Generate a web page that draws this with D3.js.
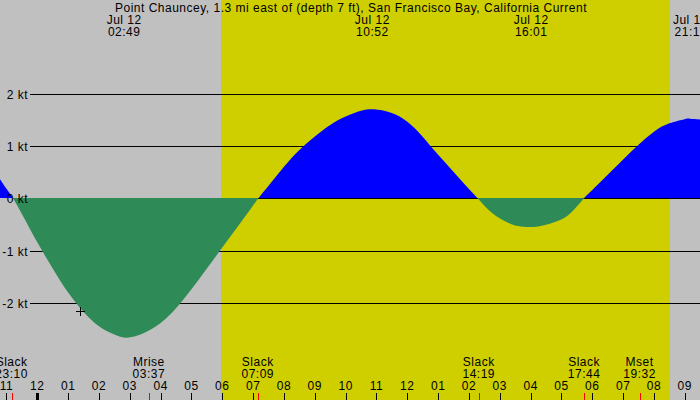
<!DOCTYPE html>
<html><head><meta charset="utf-8">
<script src="https://cdn.jsdelivr.net/npm/d3@7"></script>
<style>
body{margin:0;background:#c0c0c0;}
svg{display:block;}
text{font-family:"Liberation Sans",Arial,Helvetica,sans-serif;font-size:12px;letter-spacing:0.5px;fill:#000;}
</style>
</head><body><svg id="c" width="700" height="400"></svg>
<script>
// ---------- data (hours relative to midnight Jul 12) ----------
const title = "Point Chauncey, 1.3 mi east of (depth 7 ft), San Francisco Bay, California Current";
const currentHours = [-1.25, -1.0, -0.79, -0.5, 0.0, 0.5, 1.0, 1.5, 2.0, 2.5, 2.85,
  3.25, 3.75, 4.25, 4.75, 5.25, 5.75, 6.25, 6.75, 7.17,
  7.5, 8.0, 8.5, 9.0, 9.5, 10.0, 10.5, 10.85,
  11.25, 11.75, 12.25, 12.75, 13.25, 13.75, 14.28,
  14.75, 15.25, 15.6, 15.98, 16.4, 16.85, 17.3, 17.73,
  18.0, 18.5, 19.0, 19.5, 20.0, 20.5, 21.0, 21.17, 21.6];
const currentKnots = [0.40, 0.18, 0.0, -0.30, -0.84, -1.34, -1.80, -2.17, -2.44, -2.60, -2.66,
  -2.62, -2.48, -2.25, -1.92, -1.54, -1.14, -0.74, -0.34, 0.0,
  0.24, 0.60, 0.92, 1.18, 1.40, 1.56, 1.67, 1.70,
  1.67, 1.56, 1.33, 1.0, 0.67, 0.34, 0.0,
  -0.28, -0.46, -0.53, -0.55, -0.52, -0.44, -0.28, 0.0,
  0.16, 0.45, 0.74, 1.02, 1.27, 1.43, 1.51, 1.52, 1.50];
const extremeHours = [2.817, 10.867, 16.017, 21.183];
const extremeDates = ["Jul 12", "Jul 12", "Jul 12", "Jul 12"];
const extremeTimes = ["02:49", "10:52", "16:01", "21:11"];
const eventHours = [-0.833, 3.617, 7.15, 14.317, 17.733, 19.533];
const eventNames = ["Slack", "Mrise", "Slack", "Slack", "Slack", "Mset"];
const eventTimes = ["23:10", "03:37", "07:09", "14:19", "17:44", "19:32"];
const hourTicks = [-1, 0, 1, 2, 3, 4, 5, 6, 7, 8, 9, 10, 11, 12, 13, 14, 15, 16, 17, 18, 19, 20, 21];
const hourLabels = ["11", "12", "01", "02", "03", "04", "05", "06", "07", "08", "09", "10", "11", "12", "01", "02", "03", "04", "05", "06", "07", "08", "09"];
const knotTicks = [2, 1, 0, -1, -2];
const knotLabels = ["2 kt", "1 kt", "0 kt", "-1 kt", "-2 kt"];
const daylight = [5.96, 20.52];
const markerPoint = [1.40, -2.15];

// ---------- layout ----------
const W = 700, H = 400;
const x = d3.scaleLinear().domain([0, 12]).range([37.3, 407.3]);
const y = d3.scaleLinear().domain([0, 1]).range([198.3, 145.9]);
const y0px = Math.round(y(0));
const svg = d3.select("#c");

svg.append("rect").attr("width", W).attr("height", H).attr("fill", "#c0c0c0");
svg.append("rect").attr("x", Math.round(x(daylight[0]))).attr("y", 0)
  .attr("width", Math.round(x(daylight[1])) - Math.round(x(daylight[0]))).attr("height", H)
  .attr("fill", "#cfcf00");

// grid lines (under the fill)
svg.append("g").selectAll("line").data(knotTicks).join("line")
  .attr("x1", 30).attr("x2", W)
  .attr("y1", d => Math.round(y(d)) + 0.5).attr("y2", d => Math.round(y(d)) + 0.5)
  .attr("stroke", "#000").attr("stroke-width", 1).attr("shape-rendering", "crispEdges");

// current area
const pts = currentHours.map((h, i) => [h, currentKnots[i]]);
const area = d3.area().x(d => x(d[0])).y0(y0px).y1(d => y(d[1])).curve(d3.curveNatural);
const defs = svg.append("defs");
defs.append("clipPath").attr("id", "above").append("rect").attr("x", 0).attr("y", 0).attr("width", W).attr("height", y0px);
defs.append("clipPath").attr("id", "belowTop").append("rect").attr("x", 0).attr("y", y0px).attr("width", W).attr("height", H);
svg.append("path").datum(pts).attr("d", area).attr("fill", "#0000ff").attr("clip-path", "url(#above)");
svg.append("path").datum(pts).attr("d", area).attr("fill", "#2e8b57").attr("clip-path", "url(#belowTop)");

// axis labels on top
svg.append("g").selectAll("text").data(knotTicks).join("text")
  .attr("x", 28).attr("y", d => Math.round(y(d)) + 4.5)
  .attr("text-anchor", "end").text((d, i) => knotLabels[i]);

// marker
const mx = x(markerPoint[0]), my = y(markerPoint[1]);
svg.append("path").attr("d", `M${Math.round(mx) - 4},${Math.round(my) + 0.5}h9M${Math.round(mx) + 0.5},${Math.round(my) - 4}v9`)
  .attr("stroke", "#000").attr("stroke-width", 1).attr("fill", "none").attr("shape-rendering", "crispEdges");

// title and extreme labels
svg.append("text").attr("x", 351).attr("y", 12).attr("text-anchor", "middle").text(title);
const ext = svg.append("g").selectAll("g").data(extremeHours).join("g");
ext.append("text").attr("x", d => x(d)).attr("y", 24).attr("text-anchor", "middle").text((d, i) => extremeDates[i]);
ext.append("text").attr("x", d => x(d)).attr("y", 36).attr("text-anchor", "middle").text((d, i) => extremeTimes[i]);

// events at bottom
const ev = svg.append("g").selectAll("g").data(eventHours).join("g");
ev.append("text").attr("x", d => x(d)).attr("y", 366).attr("text-anchor", "middle").text((d, i) => eventNames[i]);
ev.append("text").attr("x", d => x(d)).attr("y", 378).attr("text-anchor", "middle").text((d, i) => eventTimes[i]);

// hour axis
svg.append("g").selectAll("text").data(hourTicks).join("text")
  .attr("x", d => x(d)).attr("y", 390).attr("text-anchor", "middle").text((d, i) => hourLabels[i]);
svg.append("g").selectAll("line").data(hourTicks).join("line")
  .attr("x1", d => Math.round(x(d)) + 0.5).attr("x2", d => Math.round(x(d)) + 0.5)
  .attr("y1", 393).attr("y2", H)
  .attr("stroke", "#000").attr("stroke-width", d => d === 0 ? 3 : 1).attr("shape-rendering", "crispEdges");
svg.append("g").selectAll("line").data(eventHours).join("line")
  .attr("x1", d => Math.round(x(d)) + 0.5).attr("x2", d => Math.round(x(d)) + 0.5)
  .attr("y1", 393).attr("y2", H)
  .attr("stroke", "#ff0000").attr("stroke-width", 1).attr("shape-rendering", "crispEdges");
</script>
</body></html>
